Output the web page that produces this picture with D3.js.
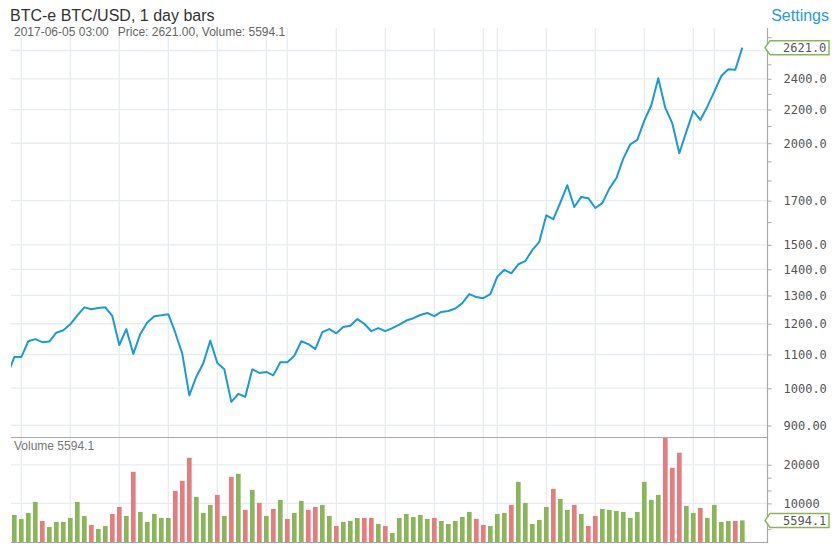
<!DOCTYPE html>
<html>
<head>
<meta charset="utf-8">
<script src="https://cdn.jsdelivr.net/npm/d3@7"></script>
<style>
  html, body { margin: 0; padding: 0; background: #fff; }
  svg { display: block; }
</style>
</head>
<body>
<svg id="chart" width="835" height="560"></svg>
<script>
// ---------------- DATA ----------------
const startDate = "2017-02-20";   // first bar date (daily bars)
const prices = [
  1037,
  1092, 1092, 1142, 1149, 1139, 1141, 1170, 1178, 1198, 1229,
  1257, 1250, 1255, 1257, 1227, 1130, 1182, 1102, 1166, 1204,
  1226, 1229, 1233, 1170, 1102, 980, 1033, 1073, 1144, 1074,
  1055, 962, 984, 976, 1055, 1044, 1047, 1037, 1076, 1076,
  1096, 1142, 1133, 1117, 1172, 1182, 1168, 1189, 1193, 1216,
  1200, 1175, 1185, 1175, 1185, 1197, 1211, 1219, 1230, 1237,
  1226, 1241, 1244, 1253, 1272, 1305, 1294, 1290, 1305, 1371,
  1398, 1384, 1420, 1433, 1478, 1513, 1631, 1613, 1690, 1776,
  1670, 1718, 1712, 1665, 1688, 1759, 1811, 1915, 1994, 2019,
  2132, 2227, 2404, 2210, 2116, 1944, 2065, 2191, 2136, 2218,
  2314, 2419, 2466, 2462, 2621
];
const volumes = [
  null,
  7015, 5975, 7534, 10392, 5456, 3897, 5196, 5196, 6235, 10392,
  6755, 4417, 3377, 4157, 7274, 9093, 6755, 18186, 7794, 5196,
  7274, 6235, 6235, 13250, 15848, 21823, 11691, 7534, 9613, 12211,
  6755, 16887, 17666, 8314, 13510, 10132, 6755, 8573, 10912, 5975,
  7534, 10652, 8314, 9093, 9613, 6755, 4157, 5196, 5456, 6235,
  6235, 6235, 4676, 4157, 2338, 6235, 7274, 6495, 7015, 5975,
  6235, 5456, 4676, 5456, 6495, 7794, 5975, 4417, 4157, 7274,
  7534, 9613, 15588, 10132, 4676, 5716, 9093, 13769, 11171, 8314,
  9613, 7274, 4157, 6755, 8573, 8314, 8054, 7794, 6235, 7794,
  15588, 10912, 12211, 27192, 19225, 23122, 9353, 7534, 8833, 6235,
  9613, 5196, 5456, 5456, 5594.1
];
// bar colour direction: u = up (green), d = down (red)
const directions = [
  "u",
  "uuuuduuuuu", "uduudduduu", "uuuddduuud", "ududududud",
  "uudduuduuu", "dduduuuuuu", "duuuuudduu", "uduuuuuduu",
  "dudduuuuuu", "uuuddduudu", "uuudu"
].join("").split("");
const priceTickValues = [900, 1000, 1100, 1200, 1300, 1400, 1500, 1700, 2000, 2200, 2400];
const priceGridValues = [900, 1000, 1100, 1200, 1300, 1400, 1500, 1700, 2000, 2200, 2400, 2600];
const priceMinorTicks = [1600, 1800, 1900, 2100, 2300, 2500, 2700];
const volTickValues = [10000, 20000];
const volMinorTicks = [3333, 6667, 13333, 16667];
const xTickDates = ["2017-02-22", "2017-03-01", "2017-03-08", "2017-03-15", "2017-03-22", "2017-03-29",
  "2017-04-01", "2017-04-08", "2017-04-15", "2017-04-22", "2017-04-29",
  "2017-05-01", "2017-05-08", "2017-05-15", "2017-05-22", "2017-05-29", "2017-06-01"];
const xTickLabels = ["2/22", "Mar", "3/8", "3/15", "3/22", "", "Apr", "4/8", "4/15", "4/22", "",
  "May", "5/8", "5/15", "5/22", "", "Jun"];
const lastTime = "2017-06-05 03:00";
const lastPrice = 2621.00;
const lastVolume = 5594.1;

// ---------------- LAYOUT ----------------
const W = 835, H = 560;
const L = 11, R = 767;
const pTop = 28, pBot = 437, vTop = 437, vBot = 542;
const green = "#8ab55a", red = "#e47d80", lineColor = "#1b9ad6";
const gridColor = "#e8ecf0", axisColor = "#a8a8a8", textColor = "#555";
const mono = "'DejaVu Sans Mono', monospace";
const sans = "'Liberation Sans', Arial, Helvetica, sans-serif";

const parse = d3.utcParse("%Y-%m-%d");
const t0 = parse(startDate);
const data = prices.map((p, i) => ({
  date: d3.utcDay.offset(t0, i), price: p, vol: volumes[i], dir: directions[i]
}));

const x = d3.scaleUtc()
  .domain([parse("2017-02-22"), parse("2017-06-01")])
  .range([21.3, 714.3]);
const y = d3.scaleLog().domain([871, 2771]).range([pBot, pTop]);
const yv = d3.scaleLinear().domain([0, 27200]).range([vBot, vTop]);
const fmt = d3.format(".5r");

const svg = d3.select("#chart");
const defs = svg.append("defs");
defs.append("clipPath").attr("id", "clipP").append("rect")
  .attr("x", L).attr("y", pTop).attr("width", R - L).attr("height", pBot - pTop);
defs.append("clipPath").attr("id", "clipV").append("rect")
  .attr("x", L).attr("y", vTop).attr("width", R - L).attr("height", vBot - vTop);
defs.append("clipPath").attr("id", "clipX").append("rect")
  .attr("x", L).attr("y", vBot).attr("width", R - L + 20).attr("height", H - vBot);

// vertical gridlines
const tickDates = xTickDates.map(parse);
svg.append("g").selectAll("line").data(tickDates).join("line")
  .attr("x1", d => x(d)).attr("x2", d => x(d))
  .attr("y1", pTop).attr("y2", vBot)
  .attr("stroke", gridColor).attr("stroke-width", 1.3);

// horizontal gridlines price
svg.append("g").selectAll("line").data(priceGridValues).join("line")
  .attr("x1", L).attr("x2", R)
  .attr("y1", d => y(d)).attr("y2", d => y(d))
  .attr("stroke", gridColor).attr("stroke-width", 1.3);
// horizontal gridlines volume
svg.append("g").selectAll("line").data(volTickValues).join("line")
  .attr("x1", L).attr("x2", R)
  .attr("y1", d => yv(d)).attr("y2", d => yv(d))
  .attr("stroke", gridColor).attr("stroke-width", 1.3);

// volume bars
const bw = 4.7;
svg.append("g").attr("clip-path", "url(#clipV)")
  .selectAll("rect").data(data.filter(d => d.vol != null)).join("rect")
  .attr("x", d => x(d.date) - bw / 2)
  .attr("width", bw)
  .attr("y", d => yv(d.vol))
  .attr("height", d => vBot - yv(d.vol))
  .attr("fill", d => d.dir === "d" ? red : green);

// price line
const line = d3.line().x(d => x(d.date)).y(d => y(d.price));
svg.append("path").datum(data)
  .attr("clip-path", "url(#clipP)")
  .attr("d", line)
  .attr("fill", "none")
  .attr("stroke", lineColor)
  .attr("stroke-width", 2)
  .attr("stroke-linejoin", "round");

// panel separator and bottom line
svg.append("line").attr("x1", L).attr("x2", R).attr("y1", pBot + 0.5).attr("y2", pBot + 0.5)
  .attr("stroke", axisColor).attr("stroke-width", 1.2);
svg.append("line").attr("x1", L).attr("x2", R).attr("y1", vBot + 0.5).attr("y2", vBot + 0.5)
  .attr("stroke", axisColor).attr("stroke-width", 1.2);

// right price axis
const pAxis = d3.axisRight(y).tickValues(priceTickValues).tickFormat(fmt).tickSize(4).tickPadding(12);
const gP = svg.append("g").attr("transform", `translate(${R + 0.5},0)`).call(pAxis);
const pMinor = d3.axisRight(y).tickValues(priceMinorTicks).tickFormat("").tickSize(4);
const gPm = svg.append("g").attr("transform", `translate(${R + 0.5},0)`).call(pMinor);
// right volume axis
const vAxis = d3.axisRight(yv).tickValues(volTickValues).tickFormat(fmt).tickSize(4).tickPadding(12);
const gV = svg.append("g").attr("transform", `translate(${R + 0.5},0)`).call(vAxis);
const vMinor = d3.axisRight(yv).tickValues(volMinorTicks).tickFormat("").tickSize(4);
const gVm = svg.append("g").attr("transform", `translate(${R + 0.5},0)`).call(vMinor);
[gP, gPm, gV, gVm].forEach(g => {
  g.select(".domain").remove();
  g.selectAll(".tick line").attr("stroke", axisColor);
  g.selectAll("text").attr("fill", textColor).attr("font-family", mono).attr("font-size", 12);
});
svg.append("line").attr("x1", R + 0.5).attr("x2", R + 0.5).attr("y1", pTop).attr("y2", vBot + 1)
  .attr("stroke", axisColor).attr("stroke-width", 1.2);

// bottom x axis labels
const xAxis = d3.axisBottom(x).tickValues(tickDates)
  .tickFormat((d, i) => xTickLabels[i]).tickSize(0).tickPadding(6);
const gX = svg.append("g").attr("transform", `translate(0,${vBot})`)
  .attr("clip-path", "url(#clipX)").call(xAxis);
gX.select(".domain").remove();
gX.selectAll("text").attr("fill", textColor).attr("font-family", mono).attr("font-size", 12);

// current value labels
function tag(cy, text) {
  const g = svg.append("g");
  g.append("path")
    .attr("d", `M765,${cy} L770,${cy - 7} L829,${cy - 7} L829,${cy + 7} L770,${cy + 7} Z`)
    .attr("fill", "#fff").attr("stroke", green).attr("stroke-width", 1.5);
  g.append("text").attr("x", 783).attr("y", cy + 4.2).text(text)
    .attr("fill", textColor).attr("font-family", mono).attr("font-size", 12);
}
tag(y(lastPrice), fmt(lastPrice));
tag(yv(lastVolume), fmt(lastVolume));

// titles
svg.append("text").attr("x", 10).attr("y", 21)
  .text("BTC-e BTC/USD, 1 day bars")
  .attr("font-family", sans).attr("font-size", 16).attr("fill", "#333");
svg.append("text").attr("x", 829).attr("y", 21).attr("text-anchor", "end")
  .text("Settings")
  .attr("font-family", sans).attr("font-size", 16).attr("fill", "#2b9ad9");
const sub = svg.append("text").attr("x", 14).attr("y", 36)
  .attr("font-family", sans).attr("font-size", 12).attr("fill", "#666");
sub.append("tspan").text(lastTime);
sub.append("tspan").attr("dx", 9).text(`Price: ${lastPrice.toFixed(2)}, Volume: ${lastVolume}`);
svg.append("text").attr("x", 14).attr("y", 449.5)
  .text(`Volume ${lastVolume}`)
  .attr("font-family", sans).attr("font-size", 12).attr("fill", "#777");
</script>
</body>
</html>
